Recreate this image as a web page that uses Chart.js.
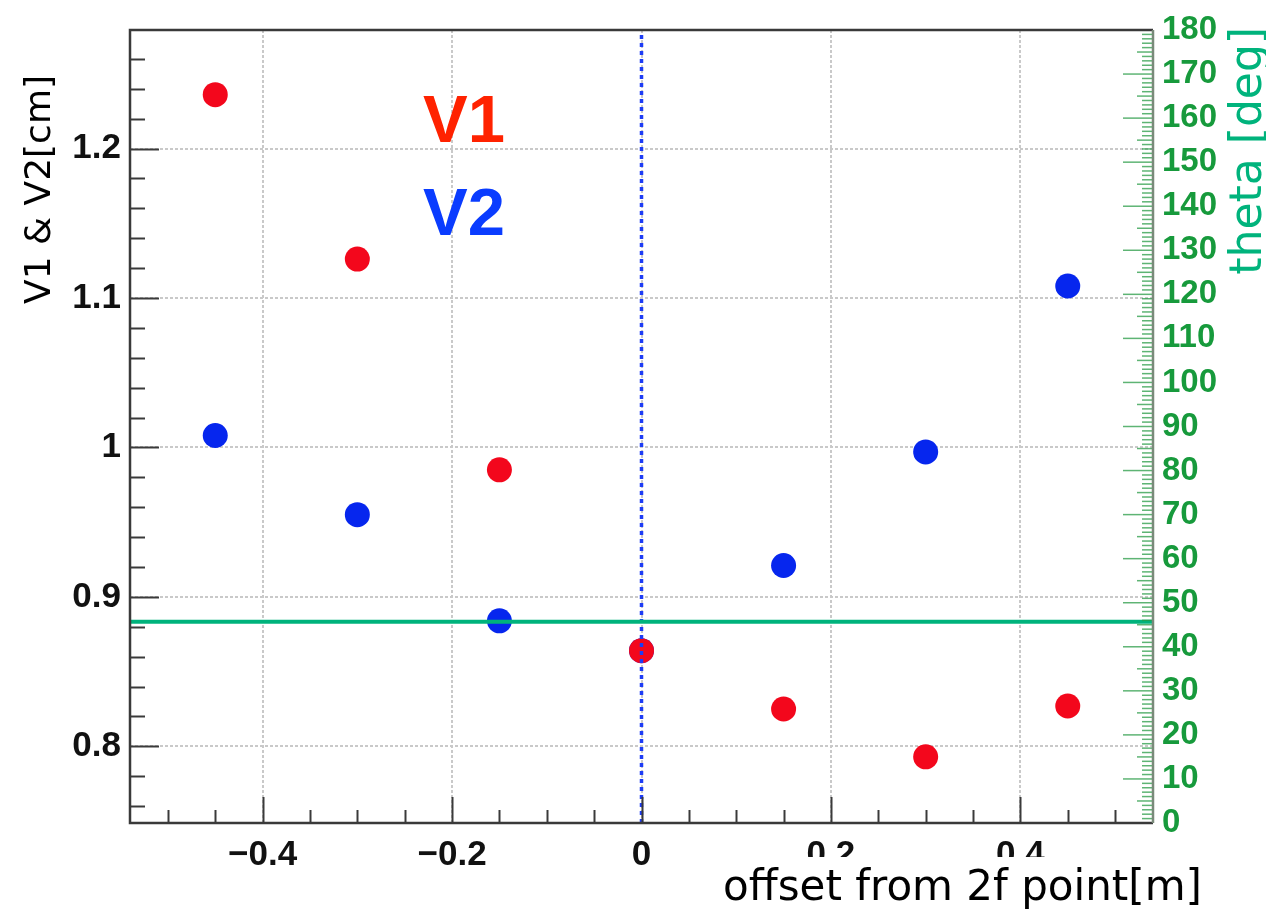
<!DOCTYPE html>
<html>
<head>
<meta charset="utf-8">
<script src="https://cdn.jsdelivr.net/npm/chart.js@4/dist/chart.umd.min.js"></script>
<style>
  html, body { margin: 0; padding: 0; background: #fff; }
  canvas { display: block; }
</style>
</head>
<body>
<canvas id="c" width="1266" height="910"></canvas>
<script>
// axis ranges
const xRange = [-0.54, 0.54];
const vRange = [0.7487, 1.2793];
const thetaRange = [0, 180];

// data
const offsets = [-0.45, -0.3, -0.15, 0, 0.15, 0.3, 0.45];
const v1 = [1.236, 1.126, 0.985, 0.864, 0.825, 0.793, 0.827];
const v2 = [1.008, 0.955, 0.884, 0.864, 0.921, 0.997, 1.108];
const thetaValue = 45.7;
const markerX = 0;

const labels = ['V1', 'V2'];
const xTitle = 'offset from 2f point[m]';
const yTitle = 'V1 & V2[cm]';
const y2Title = 'theta [deg]';

const red = '#f3071c';
const blue = '#0626ee';
const green = '#00b37c';
const darkGreen = '#179a3c';

function fmt(v) {
  let s = String(+Math.abs(v).toFixed(2));
  return v < -1e-9 ? '\u2212' + s : s;
}

// ROOT style ticks, drawn inside the frame
const frameTicks = {
  id: 'frameTicks',
  afterDraw(chart) {
    const { ctx, chartArea: a, scales } = chart;
    const sx = scales.x, sy = scales.y, s2 = scales.y2;
    ctx.save();
    ctx.lineCap = 'butt';

    ctx.strokeStyle = '#3a3a3a';
    ctx.lineWidth = 2;
    for (let k = Math.ceil(vRange[0] / 0.02); k <= Math.floor(vRange[1] / 0.02); k++) {
      const y = Math.round(sy.getPixelForValue(k * 0.02)) + 0.5;
      const len = k % 5 === 0 ? 29 : 15;
      ctx.beginPath(); ctx.moveTo(a.left, y); ctx.lineTo(a.left + len, y); ctx.stroke();
    }
    for (let k = Math.ceil(xRange[0] / 0.05); k <= Math.floor(xRange[1] / 0.05); k++) {
      const x = Math.round(sx.getPixelForValue(k * 0.05)) + 0.5;
      const len = k % 4 === 0 ? 26 : 13;
      ctx.beginPath(); ctx.moveTo(x, a.bottom); ctx.lineTo(x, a.bottom - len); ctx.stroke();
    }

    ctx.strokeStyle = 'rgba(40,155,70,0.75)';
    ctx.lineWidth = 1.5;
    for (let k = thetaRange[0]; k <= thetaRange[1]; k++) {
      const y = s2.getPixelForValue(k);
      const len = k % 10 === 0 ? 30 : (k % 5 === 0 ? 16 : 11);
      ctx.beginPath(); ctx.moveTo(a.right, y); ctx.lineTo(a.right - len, y); ctx.stroke();
    }

    // frame
    ctx.lineWidth = 2.5;
    ctx.strokeStyle = '#3a3a3a';
    ctx.beginPath();
    ctx.moveTo(a.right, a.top); ctx.lineTo(a.left, a.top);
    ctx.lineTo(a.left, a.bottom); ctx.lineTo(a.right, a.bottom);
    ctx.stroke();
    ctx.strokeStyle = '#7a8a7a';
    ctx.beginPath(); ctx.moveTo(a.right, a.top); ctx.lineTo(a.right, a.bottom); ctx.stroke();
    ctx.restore();
  }
};

const texts = {
  id: 'texts',
  afterDraw(chart) {
    const { ctx } = chart;
    ctx.save();

    // x title, white box hides the bottom of the labels under it
    ctx.font = '42px "DejaVu Sans"';
    const w = ctx.measureText(xTitle).width;
    ctx.fillStyle = '#fff';
    ctx.fillRect(705, 857, 1266 - 705, 910 - 857);
    ctx.fillStyle = '#000';
    ctx.textAlign = 'left';
    ctx.textBaseline = 'alphabetic';
    ctx.fillText(xTitle, 1202 - w, 900);

    // y title
    ctx.save();
    ctx.translate(50, 75);
    ctx.rotate(-Math.PI / 2);
    ctx.font = '36px "DejaVu Sans"';
    ctx.textAlign = 'right';
    ctx.fillStyle = '#000';
    ctx.fillText(yTitle, 0, 0);
    ctx.restore();

    // y2 title
    ctx.save();
    ctx.translate(1261, 27);
    ctx.rotate(-Math.PI / 2);
    ctx.font = '44px "DejaVu Sans"';
    ctx.textAlign = 'right';
    ctx.fillStyle = green;
    ctx.fillText(y2Title, 0, 0);
    ctx.restore();

    // V1 / V2 labels
    ctx.font = 'bold 67px "Liberation Sans"';
    ctx.textAlign = 'left';
    ctx.fillStyle = '#ff2200';
    ctx.fillText(labels[0], 423, 142);
    ctx.fillStyle = '#0a3cff';
    ctx.fillText(labels[1], 423, 235);
    ctx.restore();
  }
};

const gridStyle = { color: '#c9c9c9', lineWidth: 2, drawTicks: false };

new Chart(document.getElementById('c'), {
  type: 'scatter',
  data: {
    datasets: [
      {
        label: 'theta',
        yAxisID: 'y2',
        showLine: true,
        data: [{ x: xRange[0], y: thetaValue }, { x: xRange[1], y: thetaValue }],
        borderColor: green,
        borderWidth: 4,
        pointRadius: 0
      },
      {
        label: 'marker',
        yAxisID: 'y',
        showLine: true,
        data: [{ x: markerX, y: vRange[0] }, { x: markerX, y: vRange[1] }],
        borderColor: '#1d3cf5',
        borderWidth: 3.5,
        borderDash: [4, 4],
        pointRadius: 0
      },
      {
        label: labels[0],
        yAxisID: 'y',
        data: offsets.map((x, i) => ({ x: x, y: v1[i] })),
        backgroundColor: red,
        borderWidth: 0,
        pointRadius: 12.5
      },
      {
        label: labels[1],
        yAxisID: 'y',
        data: offsets.map((x, i) => ({ x: x, y: v2[i] })),
        backgroundColor: blue,
        borderWidth: 0,
        pointRadius: 12.5
      }
    ]
  },
  options: {
    responsive: false,
    animation: false,
    layout: { padding: { top: 27, left: 0, right: 0, bottom: 0 } },
    plugins: {
      legend: { display: false },
      tooltip: { enabled: false }
    },
    scales: {
      x: {
        type: 'linear',
        min: xRange[0],
        max: xRange[1],
        afterFit: s => { s.height = 87; },
        grid: gridStyle,
        border: { display: false, dash: [3, 2] },
        ticks: {
          stepSize: 0.2,
          includeBounds: false,
          padding: 11,
          color: '#111',
          font: { family: 'Liberation Sans', weight: 'bold', size: 35 },
          maxRotation: 0,
          callback: v => fmt(v)
        }
      },
      y: {
        type: 'linear',
        position: 'left',
        min: vRange[0],
        max: vRange[1],
        afterFit: s => { s.width = 130; },
        grid: gridStyle,
        border: { display: false, dash: [3, 2] },
        ticks: {
          stepSize: 0.1,
          includeBounds: false,
          padding: 9,
          color: '#111',
          font: { family: 'Liberation Sans', weight: 'bold', size: 35 },
          callback: v => fmt(v)
        }
      },
      y2: {
        type: 'linear',
        position: 'right',
        min: thetaRange[0],
        max: thetaRange[1],
        afterFit: s => { s.width = 113; },
        grid: { display: false, drawTicks: false },
        border: { display: false },
        ticks: {
          stepSize: 10,
          padding: 9,
          color: darkGreen,
          autoSkip: false,
          font: { family: 'Liberation Sans', weight: 'bold', size: 33 }
        }
      }
    }
  },
  plugins: [frameTicks, texts]
});
</script>
</body>
</html>
